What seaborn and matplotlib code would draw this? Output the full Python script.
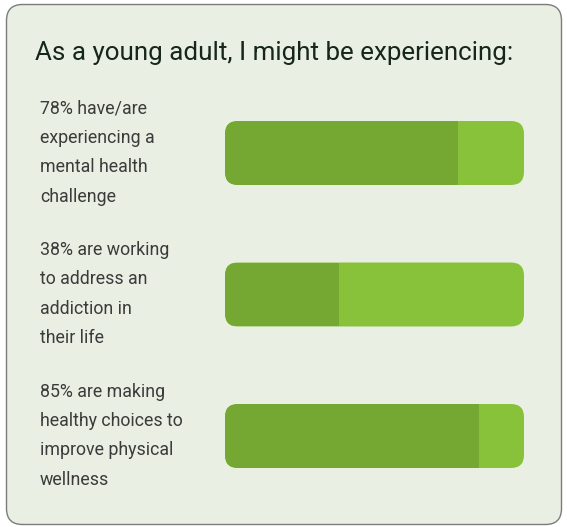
import matplotlib
matplotlib.use("Agg")
import matplotlib.pyplot as plt
import matplotlib.transforms as mtrans
import seaborn as sns
import pandas as pd
from matplotlib.patches import FancyBboxPatch

# ---- data ----
title = "As a young adult, I might be experiencing:"
labels = [
    "78% have/are\nexperiencing a\nmental health\nchallenge",
    "38% are working\nto address an\naddiction in\ntheir life",
    "85% are making\nhealthy choices to\nimprove physical\nwellness",
]
values = [78, 38, 85]
totals = [100, 100, 100]

dark = "#74a832"
light = "#88c13a"
panel_bg = "#e9efe3"

sns.set_theme(style="white")
plt.rcParams["font.family"] = ["Roboto", "DejaVu Sans"]

W, H = 567, 527
fig = plt.figure(figsize=(W / 100, H / 100), dpi=100)
fig.patch.set_facecolor("white")

# background panel
bg = fig.add_axes([0, 0, 1, 1], zorder=0)
bg.set_xlim(0, W)
bg.set_ylim(H, 0)
bg.axis("off")
bg.add_patch(FancyBboxPatch((6.5, 4.5), 555, 520,
                            boxstyle="round,pad=0,rounding_size=16",
                            fc=panel_bg, ec="#7c7c7c", lw=1.0))
bg.text(35, 53, title, va="center", ha="left", fontsize=18.7, color="#16261a")

# bar axes
top_px, unit_px = 153 - 70.75, 141.5
ax = fig.add_axes([225 / W, (H - (top_px + 3 * unit_px)) / H, 299 / W, 3 * unit_px / H], zorder=1)
ax.patch.set_alpha(0)

df = pd.DataFrame({"label": labels, "value": values, "total": totals})
sns.barplot(data=df, x="total", y="label", orient="h", color=light, saturation=1,
            width=0.452, ax=ax)
sns.barplot(data=df, x="value", y="label", orient="h", color=dark, saturation=1,
            width=0.452, ax=ax)
ax.set_xlim(0, 100)
ax.set_ylim(2.5, -0.5)
ax.set_xlabel("")
ax.set_ylabel("")
ax.set_xticks([])
sns.despine(ax=ax, left=True, bottom=True)

# rounded corners
fig.canvas.draw()
p0 = ax.transData.transform((0, 0))
p1 = ax.transData.transform((1, 1))
xpx = abs(p1[0] - p0[0])
ypx = abs(p1[1] - p0[1])
r_px = 13
rx = r_px / xpx
aspect = xpx / ypx

patches = list(ax.patches)
n = len(labels)
full_bars, val_bars = patches[:n], patches[n:]
for rect in full_bars:
    x, y, w, h = rect.get_x(), rect.get_y(), rect.get_width(), rect.get_height()
    rect.set_visible(False)
    ax.add_patch(FancyBboxPatch((x, y), w, h, boxstyle=f"round,pad=0,rounding_size={rx}",
                                mutation_aspect=aspect, fc=light, ec="none", zorder=2))
for rect, full in zip(val_bars, full_bars):
    x, y, h = full.get_x(), full.get_y(), full.get_height()
    w = full.get_width()
    rect.set_visible(False)
    fb = FancyBboxPatch((x, y), w, h, boxstyle=f"round,pad=0,rounding_size={rx}",
                        mutation_aspect=aspect, fc=dark, ec="none", zorder=3)
    ax.add_patch(fb)
    fb.set_clip_path(rect)

# category labels as left-aligned tick labels
ax.tick_params(axis="y", length=0, pad=(225 - 40) * 72 / 100)
shift = mtrans.ScaledTranslation(0, 8 / 100, fig.dpi_scale_trans)
for t in ax.get_yticklabels():
    t.set_ha("left")
    t.set_fontsize(12.8)
    t.set_color("#3b3b3b")
    t.set_linespacing(1.82)
    t.set_transform(t.get_transform() + shift)

fig.savefig("out.png", dpi=100, facecolor="white")
